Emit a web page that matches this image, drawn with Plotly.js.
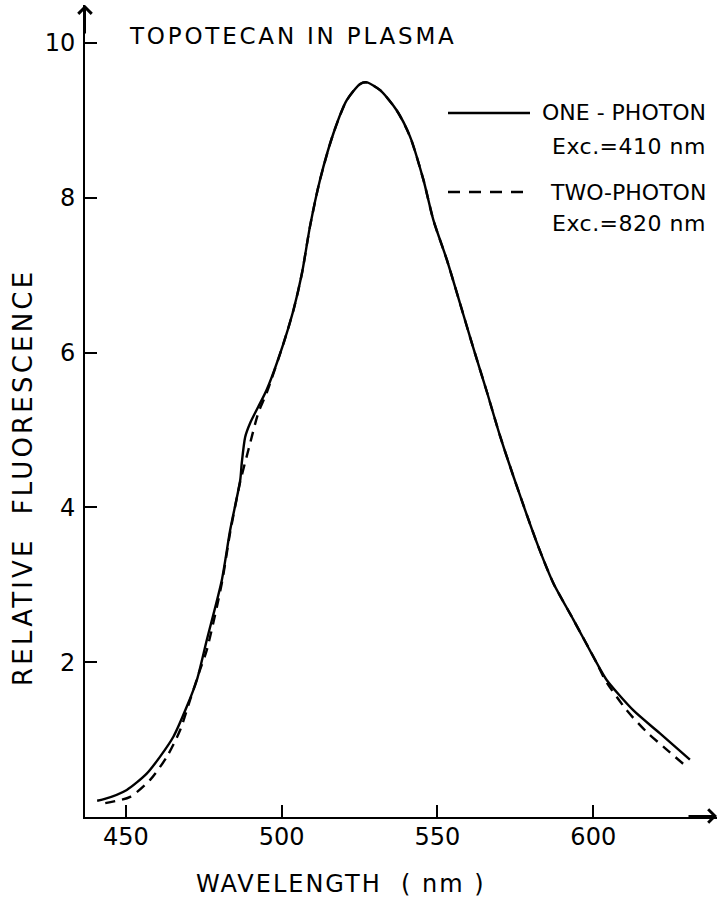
<!DOCTYPE html>
<html>
<head>
<meta charset="utf-8">
<script src="https://cdn.plot.ly/plotly-3.0.1.min.js"></script>
<style>
html,body{margin:0;padding:0;background:#fff;}
#chart{width:722px;height:900px;}
</style>
</head>
<body>
<div id="chart"></div>
<script>
// ---- data ----
var oneX = [440.8, 443.0, 450.3, 456.7, 461.0, 465.3, 469.6, 472.8, 476.0, 480.8, 483.5, 486.7, 487.2, 488.3, 489.9, 492.5, 495.2, 500.6, 503.8, 506.5, 509.1, 512.3, 516.6, 520.9, 525.2, 527.3, 531.6, 536.9, 541.2, 545.5, 548.7, 553.0, 557.2, 561.5, 565.8, 570.1, 575.4, 582.4, 587.2, 593.6, 601.1, 604.3, 612.8, 621.4, 631.0];
var oneY = [0.21, 0.23, 0.35, 0.56, 0.78, 1.04, 1.43, 1.77, 2.29, 3.06, 3.71, 4.35, 4.57, 4.91, 5.09, 5.30, 5.52, 6.12, 6.55, 7.02, 7.63, 8.23, 8.83, 9.26, 9.47, 9.49, 9.39, 9.13, 8.79, 8.23, 7.71, 7.20, 6.64, 6.06, 5.50, 4.92, 4.28, 3.49, 3.02, 2.55, 1.99, 1.77, 1.38, 1.08, 0.74];
var twoX = [443.4, 451.4, 457.8, 463.2, 467.4, 470.6, 473.8, 476.0, 480.8, 483.5, 486.7, 488.8, 489.9, 492.5, 495.2, 500.6, 503.8, 506.5, 509.1, 512.3, 516.6, 520.9, 525.2, 527.3, 531.6, 536.9, 541.2, 545.5, 548.7, 553.0, 557.2, 561.5, 565.8, 570.1, 575.4, 582.4, 587.2, 593.6, 601.1, 603.8, 610.7, 617.1, 623.0, 630.5];
var twoY = [0.18, 0.26, 0.48, 0.78, 1.12, 1.51, 1.90, 2.16, 3.02, 3.68, 4.33, 4.66, 4.83, 5.22, 5.48, 6.12, 6.55, 7.02, 7.63, 8.23, 8.83, 9.26, 9.47, 9.49, 9.39, 9.13, 8.79, 8.23, 7.71, 7.20, 6.64, 6.06, 5.50, 4.92, 4.28, 3.49, 3.02, 2.55, 1.99, 1.77, 1.38, 1.10, 0.89, 0.63];
var xTickVals = [450, 500, 550, 600];
var xTickText = ['450', '500', '550', '600'];
var yTickVals = [2, 4, 6, 8, 10];
var yTickText = ['2', '4', '6', '8', '10'];
var chartTitle = 'TOPOTECAN IN PLASMA';
var xTitle = 'WAVELENGTH  ( nm )';
var yTitle = 'RELATIVE  FLUORESCENCE';
var legendNames = ['ONE - PHOTON', 'TWO-PHOTON'];
var legendSubs = ['Exc.=410 nm', 'Exc.=820 nm'];

// ---- layout helpers (pixel -> paper) ----
var L = 85, R = 717, T = 5, B = 817;
function px(x){ return (x - L) / (R - L); }
function py(y){ return (B - y) / (B - T); }
function spaced(s, sp){ return '<span style="letter-spacing:' + sp + 'px">' + s + '</span>'; }
var FONT = 'DejaVu Sans, sans-serif';

var traces = [
  {x: oneX, y: oneY, mode: 'lines', name: legendNames[0],
   line: {color: '#000', width: 2.4, shape: 'spline', smoothing: 0.7}},
  {x: twoX, y: twoY, mode: 'lines', name: legendNames[1],
   line: {color: '#000', width: 2.4, shape: 'spline', smoothing: 0.7, dash: '10px,7px'}}
];

var layout = {
  width: 722, height: 900,
  margin: {l: L, r: 722 - R, t: T, b: 900 - B},
  paper_bgcolor: '#fff', plot_bgcolor: '#fff',
  showlegend: false,
  font: {family: FONT, color: '#000', size: 24},
  xaxis: {
    range: [436.9, 639.7], showgrid: false, zeroline: false,
    showline: true, linecolor: '#000', linewidth: 2,
    ticks: 'inside', ticklen: 12, tickwidth: 2, tickcolor: '#000',
    tickvals: xTickVals, ticktext: xTickText,
    tickfont: {family: FONT, size: 24, color: '#000'},
    ticklabelstandoff: -3
  },
  yaxis: {
    range: [0, 10.49], showgrid: false, zeroline: false,
    showline: true, linecolor: '#000', linewidth: 2,
    ticks: 'inside', ticklen: 12, tickwidth: 2, tickcolor: '#000',
    tickvals: yTickVals, ticktext: yTickText,
    tickfont: {family: FONT, size: 24, color: '#000'},
    ticklabelstandoff: 3
  },
  shapes: [
    {type: 'line', xref: 'paper', yref: 'paper', x0: px(448), x1: px(530), y0: py(113), y1: py(113),
     line: {color: '#000', width: 2.4}},
    {type: 'line', xref: 'paper', yref: 'paper', x0: px(448), x1: px(527), y0: py(192), y1: py(192),
     line: {color: '#000', width: 2.4, dash: '12px,9px'}}
  ],
  annotations: [
    {xref: 'paper', yref: 'paper', x: px(127), y: py(36), xanchor: 'left', yanchor: 'middle',
     text: spaced(chartTitle, 2.8), showarrow: false, font: {family: FONT, size: 23, color: '#000'}},
    {xref: 'paper', yref: 'paper', x: px(341), y: py(884), xanchor: 'center', yanchor: 'middle',
     text: spaced(xTitle, 2), showarrow: false, font: {family: FONT, size: 24, color: '#000'}},
    {xref: 'paper', yref: 'paper', x: px(23), y: py(478), xanchor: 'center', yanchor: 'middle',
     text: spaced(yTitle, 3.2), textangle: -90, showarrow: false, font: {family: FONT, size: 26, color: '#000'}},
    {xref: 'paper', yref: 'paper', x: px(708), y: py(113), xanchor: 'right', yanchor: 'middle',
     text: legendNames[0], showarrow: false, font: {family: FONT, size: 22, color: '#000'}},
    {xref: 'paper', yref: 'paper', x: px(708), y: py(146), xanchor: 'right', yanchor: 'middle',
     text: spaced(legendSubs[0], 0.5), showarrow: false, font: {family: FONT, size: 22, color: '#000'}},
    {xref: 'paper', yref: 'paper', x: px(708), y: py(192), xanchor: 'right', yanchor: 'middle',
     text: legendNames[1], showarrow: false, font: {family: FONT, size: 22, color: '#000'}},
    {xref: 'paper', yref: 'paper', x: px(708), y: py(224), xanchor: 'right', yanchor: 'middle',
     text: spaced(legendSubs[1], 0.5), showarrow: false, font: {family: FONT, size: 22, color: '#000'}},
    // axis arrowheads
    {xref: 'paper', yref: 'paper', x: 0, y: 1, ax: 0, ay: 30, text: '', showarrow: true,
     arrowhead: 4, arrowsize: 1.3, arrowwidth: 2, arrowcolor: '#000'},
    {xref: 'paper', yref: 'paper', x: 1, y: py(816), ax: -30, ay: 0, text: '', showarrow: true,
     arrowhead: 4, arrowsize: 1.3, arrowwidth: 2, arrowcolor: '#000'}
  ]
};

Plotly.newPlot('chart', traces, layout, {displayModeBar: false, staticPlot: true});
</script>
</body>
</html>
